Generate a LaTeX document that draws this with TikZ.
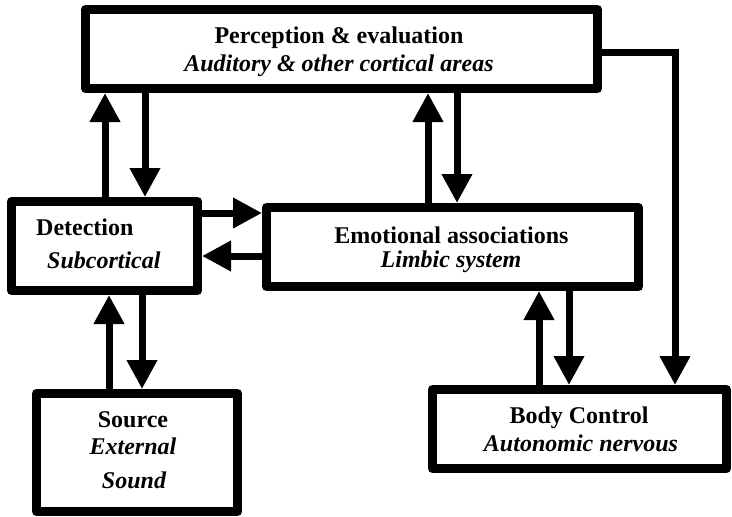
\documentclass[tikz,border=0pt]{standalone}
\usepackage{fontspec}
\setmainfont{Liberation Serif}
\usetikzlibrary{arrows.meta,calc}
\begin{document}
\begin{tikzpicture}[x=1pt,y=-1pt,
  box/.style={draw,line width=9pt,line join=round,inner sep=0pt},
  ttl/.style={anchor=base,inner sep=0pt,font=\fontsize{24}{28}\selectfont\bfseries},
  sub/.style={anchor=base,inner sep=0pt,font=\fontsize{24}{28}\selectfont\bfseries\itshape},
  arr/.style={line width=7pt,-{Triangle[length=29pt,width=29pt]}},
  conn/.style={line width=7pt,line join=miter}
]
\useasboundingbox (0,0) rectangle (732,517);

% boxes
\node[box,minimum width=512pt,minimum height=79pt] (P) at (341.5,49) {};
\node[box,minimum width=186pt,minimum height=89pt] (D) at (104.5,246) {};
\node[box,minimum width=372pt,minimum height=79pt] (E) at (452.5,247) {};
\node[box,minimum width=201pt,minimum height=118pt] (S) at (137,452.5) {};
\node[box,minimum width=294pt,minimum height=79pt] (B) at (579.5,429) {};

% texts
\node[ttl] (Pt) at (339,43) {Perception \& evaluation};
\node[sub] (Ps) at (339,71) {Auditory \& other cortical areas};
\node[ttl,anchor=base west] (Dt) at (36,235) {Detection};
\node[sub,anchor=base west] (Ds) at (47,268) {Subcortical};
\node[ttl] (Et) at (451.5,243) {Emotional associations};
\node[sub] (Es) at (451,267) {Limbic system};
\node[ttl] (St) at (133,427) {Source};
\node[sub] (Ss) at (133,454) {External};
\node[sub] (Ss2) at (134,488) {Sound};
\node[ttl] (Bt) at (579,423) {Body Control};
\node[sub] (Bs) at (581,451) {Autonomic nervous};

% helper coordinates
\coordinate (a1) at (105,0);
\coordinate (a2) at (145,0);
\coordinate (a3) at (428,0);
\coordinate (a4) at (457,0);
\coordinate (a5) at (109,0);
\coordinate (a6) at (142,0);
\coordinate (a7) at (539,0);
\coordinate (a8) at (569,0);
\coordinate (a9) at (675,0);
\coordinate (b1) at (0,213);
\coordinate (b2) at (0,256);
\coordinate (b3) at (0,52);

% connectors
\draw[arr] (D.north -| a1) -- (P.south -| a1);
\draw[arr] (P.south -| a2) -- (D.north -| a2);
\draw[arr] (E.north -| a3) -- (P.south -| a3);
\draw[arr] (P.south -| a4) -- (E.north -| a4);
\draw[arr] (D.east |- b1) -- (E.west |- b1);
\draw[arr] (E.west |- b2) -- (D.east |- b2);
\draw[arr] (S.north -| a5) -- (D.south -| a5);
\draw[arr] (D.south -| a6) -- (S.north -| a6);
\draw[arr] (B.north -| a7) -- (E.south -| a7);
\draw[arr] (E.south -| a8) -- (B.north -| a8);
\draw[arr,conn] (P.east |- b3) -| (B.north -| a9);
\end{tikzpicture}
\end{document}
